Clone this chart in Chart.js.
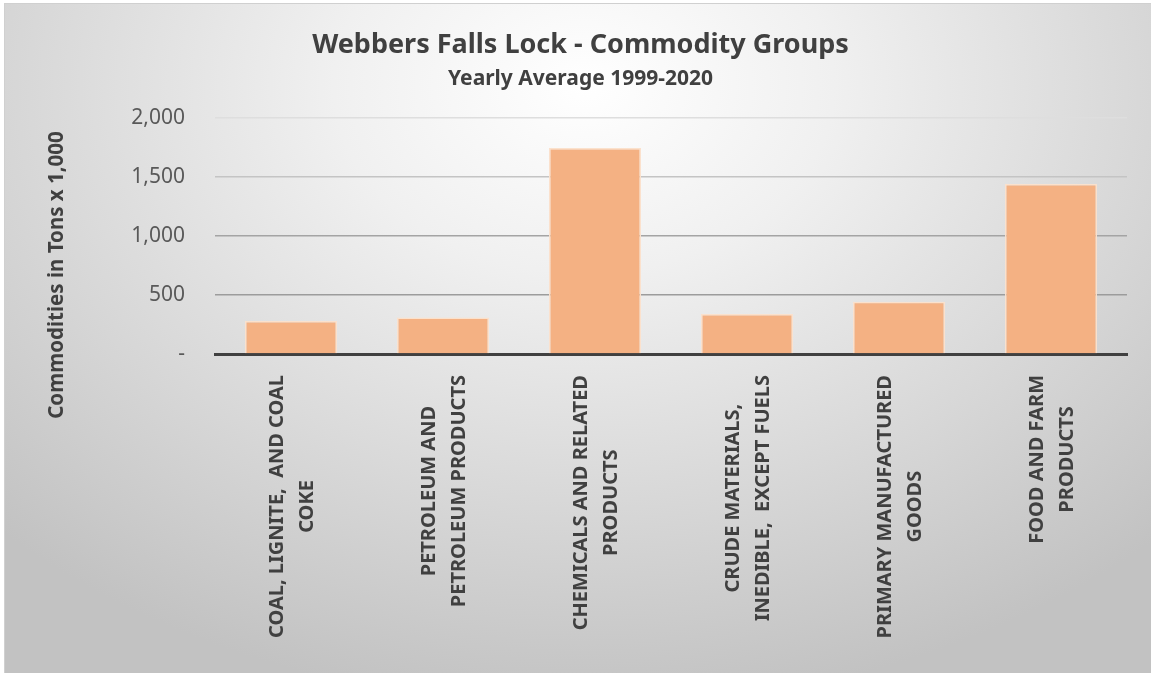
<!DOCTYPE html>
<html>
<head>
<meta charset="utf-8">
<script src="https://cdn.jsdelivr.net/npm/chart.js@4/dist/chart.umd.min.js"></script>
<style>
  html, body { margin: 0; padding: 0; background: #fff; }
  #frame {
    position: absolute; left: 4px; top: 3px; width: 1160px; height: 680px;
    border: 1px solid #d0d0d0; box-sizing: border-box;
    background: radial-gradient(ellipse 72% 92% at 50% 12%, #ffffff 0%, #f0f0f0 30%, #c2c2c2 100%);
  }
  #wrap { position: absolute; left: 0; top: 0; width: 1151px; height: 673px; }
</style>
</head>
<body>
<div id="frame"></div>
<div id="wrap"><canvas id="chart"></canvas></div>
<script>
const FONT = '"Noto Sans", "Open Sans", sans-serif';

const categories = [
  ['COAL, LIGNITE,  AND COAL', 'COKE'],
  ['PETROLEUM AND', 'PETROLEUM PRODUCTS'],
  ['CHEMICALS AND RELATED', 'PRODUCTS'],
  ['CRUDE MATERIALS,', 'INEDIBLE,  EXCEPT FUELS'],
  ['PRIMARY MANUFACTURED', 'GOODS'],
  ['FOOD AND FARM', 'PRODUCTS'],
];
const tonnage = [280, 310, 1745, 340, 443, 1441];
const yTicks = [0, 500, 1000, 1500, 2000];
const yTitle = 'Commodities in Tons x 1,000';
const gridColors = { 500: '#9c9c9c', 1000: '#a4a4a4', 1500: '#c4c4c4', 2000: '#dedede' };

// x labels: block starts at the axis, lines centred on each other; y title drawn lower like Excel
const customText = {
  id: 'customText',
  afterDraw(chart) {
    const { ctx, scales: { x } } = chart;
    ctx.save();
    ctx.font = 'bold 20px ' + FONT;
    ctx.fillStyle = '#404040';
    ctx.textAlign = 'center';
    ctx.textBaseline = 'middle';
    const lh = 30;
    categories.forEach((lines, i) => {
      const px = x.getPixelForTick(i);
      const w = Math.max(...lines.map(l => ctx.measureText(l).width));
      ctx.save();
      ctx.translate(px + 1 - (lines.length - 1) * lh / 2, x.top + 21 + w / 2);
      ctx.rotate(-Math.PI / 2);
      lines.forEach((l, j) => ctx.fillText(l, 0, j * lh));
      ctx.restore();
    });
    ctx.font = 'bold 20.5px ' + FONT;
    ctx.translate(57, 275);
    ctx.rotate(-Math.PI / 2);
    ctx.fillText(yTitle, 0, 0);
    ctx.restore();
  }
};

new Chart(document.getElementById('chart'), {
  type: 'bar',
  data: {
    labels: categories,
    datasets: [{
      data: tonnage,
      backgroundColor: '#F4B183',
      borderColor: '#FBE1CC',
      borderWidth: 1.5,
      categoryPercentage: 1,
      barPercentage: 0.605,
    }],
  },
  options: {
    responsive: true, maintainAspectRatio: false, animation: false,
    layout: { padding: { left: 34, right: 24, top: 0, bottom: 0 } },
    plugins: {
      legend: { display: false },
      tooltip: { enabled: false },
      title: {
        display: true, text: 'Webbers Falls Lock - Commodity Groups', color: '#404040',
        font: { family: FONT, size: 27, weight: 'bold' }, padding: { top: 29, bottom: 4 },
      },
      subtitle: {
        display: true, text: 'Yearly Average 1999-2020', color: '#404040',
        font: { family: FONT, size: 21, weight: 'bold' }, padding: { top: 1, bottom: 26.4 },
      },
    },
    scales: {
      x: {
        grid: { display: false },
        border: { color: '#404040', width: 3 },
        ticks: { display: false },
        afterFit: s => { s.height = 319; },
      },
      y: {
        min: 0, max: 2000,
        afterBuildTicks: s => { s.ticks = yTicks.map(v => ({ value: v })); },
        grid: { color: c => gridColors[c.tick.value] || 'transparent', lineWidth: 1.5, drawTicks: false },
        border: { display: false },
        ticks: {
          color: '#595959', padding: 30,
          font: { family: FONT, size: 21 },
          callback: v => v === 0 ? '-' : v.toLocaleString('en-US'),
        },
        afterFit: s => { s.width = 181; },
      },
    },
  },
  plugins: [customText],
});
</script>
</body>
</html>
